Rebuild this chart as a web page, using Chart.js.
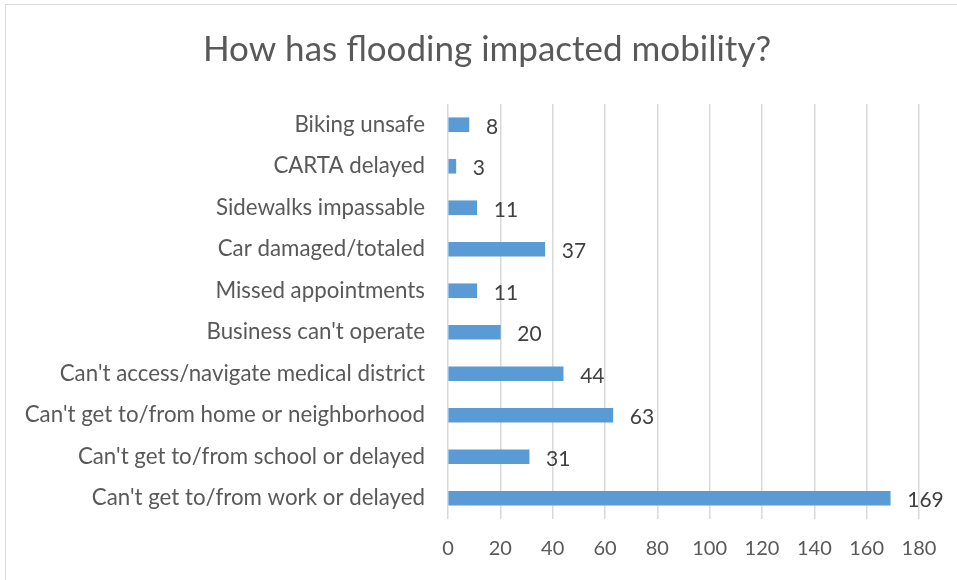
<!DOCTYPE html>
<html>
<head>
<meta charset="utf-8">
<script src="https://cdn.jsdelivr.net/npm/chart.js@4.4.1/dist/chart.umd.min.js"></script>
<style>
  html, body { margin: 0; padding: 0; background: #ffffff; }
  #frame { position: absolute; left: 5px; top: 4px; width: 1000px; height: 1000px; border: 1px solid #d9d9d9; z-index: 0; }
  #wrap { position: absolute; left: 0; top: 0; width: 957px; height: 580px; z-index: 1; }
</style>
</head>
<body>
<div id="frame"></div>
<div id="wrap"><canvas id="c" width="957" height="580"></canvas></div>
<script>
const chartTitle = "How has flooding impacted mobility?";
const categories = [
  "Biking unsafe",
  "CARTA delayed",
  "Sidewalks impassable",
  "Car damaged/totaled",
  "Missed appointments",
  "Business can't operate",
  "Can't access/navigate medical district",
  "Can't get to/from home or neighborhood",
  "Can't get to/from school or delayed",
  "Can't get to/from work or delayed"
];
const values = [8, 3, 11, 37, 11, 20, 44, 63, 31, 169];
const xMin = 0, xMax = 180, xStep = 20;

const FONT = "Lato, 'Open Sans', sans-serif";

const titleAndLabels = {
  id: 'titleAndLabels',
  afterDatasetsDraw(chart) {
    const ctx = chart.ctx;
    const meta = chart.getDatasetMeta(0);
    ctx.save();
    ctx.font = "21px " + FONT;
    ctx.fillStyle = "#404040";
    ctx.textBaseline = "middle";
    ctx.textAlign = "left";
    meta.data.forEach((bar, i) => {
      ctx.fillText(String(values[i]), bar.x + 17, bar.y + 2);
    });
    ctx.font = "35px " + FONT;
    ctx.fillStyle = "#595959";
    ctx.textAlign = "center";
    ctx.textBaseline = "alphabetic";
    ctx.fillText(chartTitle, 487, 61);
    ctx.restore();
  }
};

new Chart(document.getElementById('c'), {
  type: 'bar',
  data: {
    labels: categories,
    datasets: [{
      data: values,
      backgroundColor: '#5b9bd5',
      borderWidth: 0,
      barThickness: 14
    }]
  },
  options: {
    indexAxis: 'y',
    responsive: false,
    animation: false,
    layout: { padding: { left: 0, right: 38, top: 104, bottom: 0 } },
    plugins: {
      legend: { display: false },
      tooltip: { enabled: false },
      title: { display: false }
    },
    scales: {
      x: {
        min: xMin, max: xMax,
        ticks: { stepSize: xStep, color: '#595959', font: { family: FONT, size: 20 }, padding: 18 },
        grid: { color: '#d9d9d9', lineWidth: 1.5, drawTicks: false },
        border: { display: false },
        afterFit(scale) { scale.height = 61; }
      },
      y: {
        ticks: { color: '#595959', font: { family: FONT, size: 22.3 }, padding: 15, autoSkip: false },
        grid: { display: false },
        border: { display: false },
        afterFit(scale) { scale.width = 448; }
      }
    }
  },
  plugins: [titleAndLabels]
});
</script>
</body>
</html>
